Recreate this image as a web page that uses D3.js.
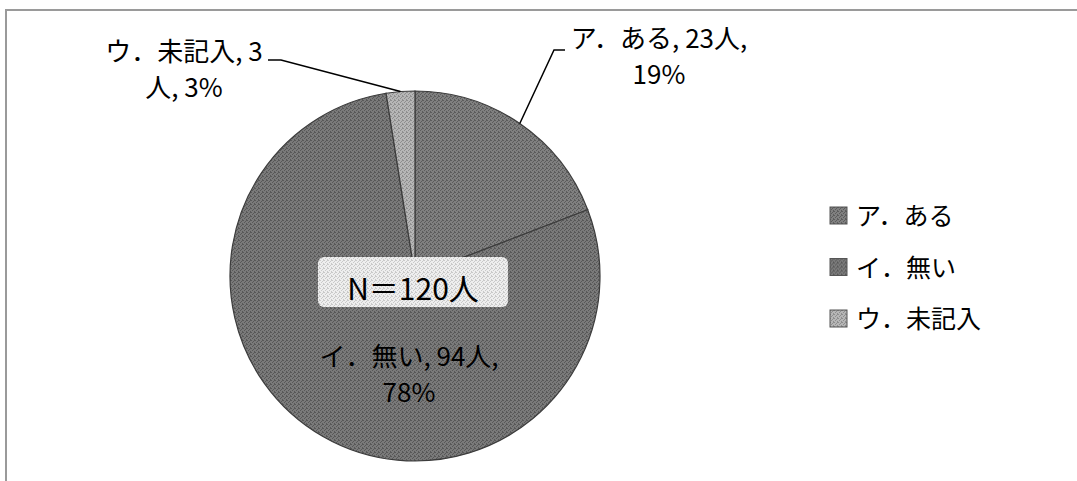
<!DOCTYPE html>
<html lang="ja">
<head>
<meta charset="UTF-8">
<title>pie</title>
<script src="https://d3js.org/d3.v7.min.js"></script>
<style>
  body { margin: 0; background: #fff; }
  text { font-family: "Noto Sans CJK JP", "Noto Sans", sans-serif; fill: #000; }
</style>
</head>
<body>
<div id="chart"></div>
<script>
// data
var categories = ["ア．ある", "イ．無い", "ウ．未記入"];
var counts = [23, 94, 3];
var percents = ["19%", "78%", "3%"];
var total = "N＝120人";

var width = 1077, height = 481;
var cx = 415, cy = 276, r = 185;

var svg = d3.select("#chart").append("svg")
  .attr("width", width)
  .attr("height", height);

// dithered gray fills
var defs = svg.append("defs");
function dither(id, c1, c2) {
  var p = defs.append("pattern")
    .attr("id", id)
    .attr("width", 4).attr("height", 4)
    .attr("patternUnits", "userSpaceOnUse");
  p.append("rect").attr("width", 4).attr("height", 4).attr("fill", c1);
  [[0, 0], [2, 1], [1, 2], [3, 3], [3, 0]].forEach(function (d) {
    p.append("rect").attr("x", d[0]).attr("y", d[1])
      .attr("width", 1).attr("height", 1).attr("fill", c2);
  });
}
dither("fillA", "#808080", "#5c5c5c");
dither("fillB", "#7a7a7a", "#585858");
dither("fillC", "#b6b6b6", "#8e8e8e");
dither("fillBox", "#eeeeee", "#c9c9c9");
var fills = ["url(#fillA)", "url(#fillB)", "url(#fillC)"];

// chart area border
svg.append("rect")
  .attr("x", 6).attr("y", 10)
  .attr("width", width + 20).attr("height", height + 20)
  .attr("fill", "none")
  .attr("stroke", "#9a9a9a")
  .attr("stroke-width", 2);

var pie = d3.pie().sort(null).value(function (d) { return d; });
var arcs = pie(counts);
var arc = d3.arc().innerRadius(0).outerRadius(r);

var g = svg.append("g").attr("transform", "translate(" + cx + "," + cy + ")");
g.selectAll("path")
  .data(arcs)
  .enter()
  .append("path")
    .attr("d", arc)
    .attr("fill", function (d, i) { return fills[i]; })
    .attr("stroke", "#3c3c3c")
    .attr("stroke-width", 1.2);

// N box in the middle
svg.append("rect")
  .attr("x", 318).attr("y", 257)
  .attr("width", 190).attr("height", 50)
  .attr("rx", 6)
  .attr("fill", "url(#fillBox)");
svg.append("text")
  .attr("x", 413).attr("y", 300)
  .attr("text-anchor", "middle")
  .attr("font-size", "30px")
  .text(total);

// data labels
var labels = [
  { i: 0, x: 659, y: 48, lines: [categories[0] + ", " + counts[0] + "人,", percents[0]], lead: [[565, 50], [554, 50]] },
  { i: 1, x: 409, y: 366, lines: [categories[1] + ", " + counts[1] + "人,", percents[1]], lead: null },
  { i: 2, x: 184, y: 61, lines: [categories[2] + ", " + counts[2], "人, " + percents[2]], lead: [[268, 60], [281, 60]] }
];

labels.forEach(function (l) {
  var t = svg.append("text")
    .attr("text-anchor", "middle")
    .attr("font-size", "26px");
  l.lines.forEach(function (s, j) {
    t.append("tspan").attr("x", l.x).attr("y", l.y + j * 36).text(s);
  });
  if (l.lead) {
    var d = arcs[l.i];
    var a = (d.startAngle + d.endAngle) / 2;
    var end = [cx + Math.sin(a) * r, cy - Math.cos(a) * r];
    svg.append("polyline")
      .attr("points", [l.lead[0], l.lead[1], end].map(function (p) { return p.join(","); }).join(" "))
      .attr("fill", "none")
      .attr("stroke", "#000")
      .attr("stroke-width", 1.5);
  }
});

// legend
var legend = svg.append("g").attr("transform", "translate(830,215)");
var row = legend.selectAll("g")
  .data(categories)
  .enter()
  .append("g")
    .attr("transform", function (d, i) { return "translate(0," + i * 51.5 + ")"; });
row.append("rect")
  .attr("x", 0).attr("y", -8)
  .attr("width", 17).attr("height", 17)
  .attr("fill", function (d, i) { return fills[i]; })
  .attr("stroke", "#555")
  .attr("stroke-width", 1);
row.append("text")
  .attr("x", 26).attr("y", 10)
  .attr("font-size", "25px")
  .text(function (d) { return d; });
</script>
</body>
</html>
